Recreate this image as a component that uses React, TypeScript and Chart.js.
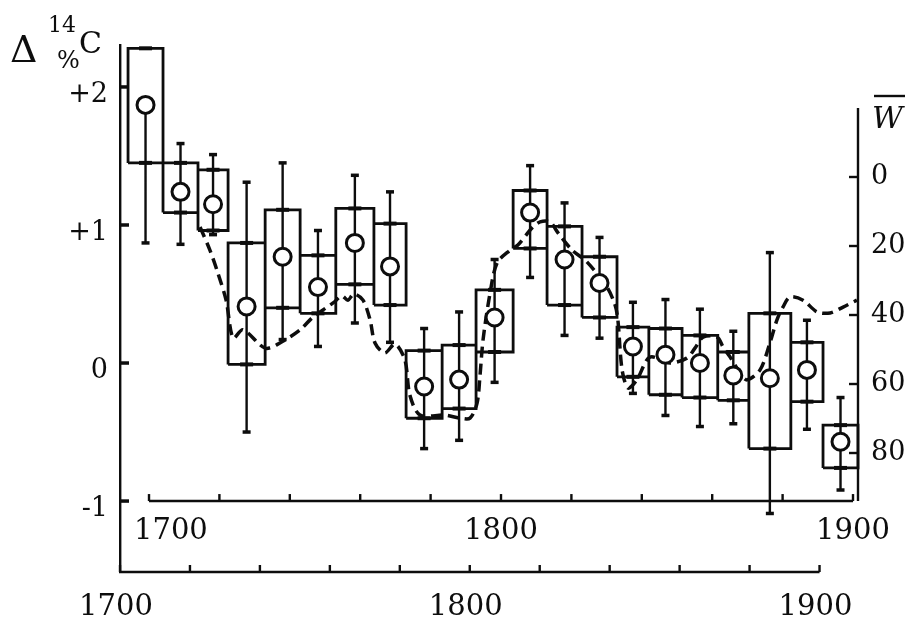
import React, { useEffect, useRef } from 'react';
import { Chart, registerables } from 'chart.js';

Chart.register(...registerables);

const INK = '#0d0d0d';
const SERIF = '"DejaVu Serif", "Liberation Serif", serif';

// ---- Δ14C decadal boxes (bottom time axis, left Δ14C axis) ----
const decadeEdges = [1702.3, 1712.3, 1722.3, 1730.9, 1741.5, 1751.5, 1761.7, 1772.6, 1781.8, 1792.1, 1801.8,
  1812.4, 1822.1, 1832.1, 1842.1, 1851.2, 1860.7, 1870.9, 1879.8, 1891.8, 1901.0, 1911.0];
const boxHigh = [2.28, 1.45, 1.40, 0.87, 1.11, 0.78, 1.12, 1.01, 0.09, 0.13, 0.53, 1.25, 0.99, 0.77, 0.26, 0.25, 0.20, 0.08, 0.36, 0.15, -0.45];
const boxLow = [1.45, 1.09, 0.96, -0.01, 0.40, 0.36, 0.57, 0.42, -0.40, -0.33, 0.08, 0.83, 0.42, 0.33, -0.10, -0.23, -0.25, -0.27, -0.62, -0.28, -0.76];
const delta14C = [1.87, 1.24, 1.15, 0.41, 0.77, 0.55, 0.87, 0.70, -0.17, -0.12, 0.33, 1.09, 0.75, 0.58, 0.12, 0.06, 0.00, -0.09, -0.11, -0.05, -0.57];
const errHigh = [1.87, 1.59, 1.51, 1.31, 1.45, 0.96, 1.36, 1.24, 0.25, 0.37, 0.75, 1.43, 1.16, 0.91, 0.44, 0.46, 0.39, 0.23, 0.80, 0.31, -0.25];
const errLow = [0.87, 0.86, 0.93, -0.50, 0.17, 0.12, 0.29, 0.15, -0.62, -0.56, -0.14, 0.62, 0.20, 0.18, -0.22, -0.38, -0.46, -0.44, -1.09, -0.48, -0.92];

// ---- Wolf number W̄ (top time axis, right inverted axis) ----
const wYears = [1714.5, 1717.3, 1719.3, 1721.9, 1723.9, 1726.7, 1733.0, 1737.2, 1742.9, 1746.6, 1752.3, 1754.8, 1756.5,
  1758.2, 1760.8, 1762.8, 1764.2, 1767.0, 1769.9, 1772.7, 1774.1, 1777.0, 1784.1, 1788.4, 1791.2, 1793.2, 1794.0,
  1794.9, 1796.9, 1798.9, 1802.6, 1804.8, 1808.8, 1811.1, 1813.9, 1816.2, 1820.2, 1824.4, 1830.1, 1832.4, 1833.2,
  1834.4, 1836.1, 1838.6, 1842.3, 1848.0, 1852.8, 1855.1, 1857.4, 1861.4, 1863.1, 1865.1, 1867.9, 1869.9, 1873.6,
  1876.4, 1878.4, 1880.1, 1882.1, 1885.8, 1889.8, 1893.5, 1897.2, 1901.1];
const wValues = [14.5, 21.2, 27.0, 35.7, 46.7, 44.3, 49.6, 48.1, 44.3, 40.6, 36.5, 34.5, 35.7,
  33.9, 35.7, 41.4, 48.1, 51.0, 48.4, 53.0, 63.2, 69.0, 69.0, 69.9, 69.9, 65.5, 58.0,
  47.2, 33.6, 24.9, 21.2, 19.7, 14.8, 13.0, 13.0, 16.2, 21.2, 24.6, 31.9, 37.1, 41.4,
  55.9, 61.2, 58.8, 52.2, 53.9, 52.5, 49.6, 46.4, 46.4, 49.3, 52.2, 56.8, 58.8, 55.9,
  48.1, 41.4, 37.7, 34.8, 35.7, 39.1, 39.4, 37.7, 35.7];

// ---- ticks ----
const yTicks = [-1, 0, 1, 2];
const wTicks = [0, 20, 40, 60, 80];
const yearTicks = [1700, 1720, 1740, 1760, 1780, 1800, 1820, 1840, 1860, 1880, 1900];
const yearLabels = [1700, 1800, 1900];

const decorPlugin = {
  id: 'decor',
  afterDraw(chart: any) {
    const { ctx, chartArea: a, scales } = chart;
    const x = scales.x, y = scales.y, xw = scales.xw, yw = scales.yw;
    ctx.save();
    ctx.strokeStyle = INK;
    ctx.fillStyle = INK;
    const seg = (x1: number, y1: number, x2: number, y2: number, w: number) => {
      ctx.lineWidth = w;
      ctx.beginPath();
      ctx.moveTo(x1, y1);
      ctx.lineTo(x2, y2);
      ctx.stroke();
    };
    // left axis: inward ticks
    for (const v of yTicks) {
      const p = y.getPixelForValue(v);
      seg(a.left, p, a.left + 9, p, 3.5);
    }
    // bottom time axis
    const b1 = x.getPixelForValue(yearTicks[yearTicks.length - 1]);
    seg(a.left - 1, a.bottom, b1, a.bottom, 2.4);
    for (const t of yearTicks) {
      const p = x.getPixelForValue(t);
      seg(p, a.bottom, p, a.bottom - 7, 2.4);
    }
    // top time axis (W frame), sitting at Δ = -1
    const ty = y.getPixelForValue(-1);
    const t0 = xw.getPixelForValue(yearTicks[0]);
    const t1 = xw.getPixelForValue(yearTicks[yearTicks.length - 1]);
    seg(t0, ty, t1, ty, 2.4);
    for (const t of yearTicks) {
      const p = xw.getPixelForValue(t);
      seg(p, ty, p, ty - 7, 2.4);
    }
    ctx.font = `29px ${SERIF}`;
    ctx.textAlign = 'center';
    ctx.textBaseline = 'middle';
    for (const t of yearLabels) {
      const p = xw.getPixelForValue(t);
      const w = ctx.measureText(String(t)).width;
      const cx = Math.max(p, a.left + 14 + w / 2);
      ctx.fillText(String(t), cx, ty + 30);
    }
    // right W axis
    const r = a.right;
    const rTop = yw.getPixelForValue(-20);
    seg(r, rTop, r, ty, 2.4);
    for (const v of wTicks) {
      const p = yw.getPixelForValue(v);
      seg(r - 9, p, r, p, 2.4);
    }
    // axis titles
    ctx.textAlign = 'left';
    ctx.textBaseline = 'alphabetic';
    ctx.font = `38px ${SERIF}`;
    ctx.fillText('Δ', 10, 62);
    ctx.font = `22px ${SERIF}`;
    ctx.fillText('14', 48, 32);
    ctx.font = `24px ${SERIF}`;
    ctx.fillText('%', 57, 68);
    ctx.font = `30px ${SERIF}`;
    ctx.fillText('C', 79, 53);
    ctx.font = `italic 30px ${SERIF}`;
    ctx.fillText('W', 872, 128);
    seg(874, 96, 905, 96, 2.4);
    ctx.restore();
  },
};

export default function App() {
  const ref = useRef<HTMLCanvasElement>(null);

  useEffect(() => {
    const centers = boxHigh.map((_, i) => (decadeEdges[i] + decadeEdges[i + 1]) / 2);

    const boxPts: any[] = [];
    boxHigh.forEach((hi, i) => {
      const s = decadeEdges[i];
      const e = decadeEdges[i + 1];
      const lo = boxLow[i];
      boxPts.push({ x: s, y: lo }, { x: s, y: hi }, { x: e, y: hi }, { x: e, y: lo }, { x: s, y: lo }, { x: (s + e) / 2, y: null });
    });
    const whiskerPts: any[] = [];
    const capPts: any[] = [];
    const crossPts: any[] = [];
    centers.forEach((c, i) => {
      whiskerPts.push({ x: c, y: errLow[i] }, { x: c, y: errHigh[i] }, { x: c, y: null });
      capPts.push({ x: c, y: errLow[i] }, { x: c, y: errHigh[i] });
      crossPts.push({ x: c, y: boxHigh[i] }, { x: c, y: boxLow[i] });
    });

    const chart = new Chart(ref.current as HTMLCanvasElement, {
      type: 'scatter',
      data: {
        datasets: [
          {
            label: 'W',
            data: wYears.map((yr, i) => ({ x: yr, y: wValues[i] })),
            xAxisID: 'xw',
            yAxisID: 'yw',
            showLine: true,
            borderColor: INK,
            borderWidth: 3.5,
            borderDash: [11, 6],
            pointRadius: 0,
            tension: 0.3,
            order: 5,
          },
          {
            label: 'boxes',
            data: boxPts,
            xAxisID: 'x',
            yAxisID: 'y',
            showLine: true,
            borderColor: INK,
            borderWidth: 2.8,
            borderJoinStyle: 'miter',
            pointRadius: 0,
            clip: false,
            order: 4,
          },
          {
            label: 'whiskers',
            data: whiskerPts,
            xAxisID: 'x',
            yAxisID: 'y',
            showLine: true,
            borderColor: INK,
            borderWidth: 2.4,
            pointRadius: 0,
            order: 3,
          },
          {
            label: 'caps',
            data: capPts,
            xAxisID: 'x',
            yAxisID: 'y',
            pointStyle: 'line',
            pointRadius: 4,
            borderColor: INK,
            borderWidth: 3.5,
            order: 2,
          },
          {
            label: 'crosses',
            data: crossPts,
            xAxisID: 'x',
            yAxisID: 'y',
            pointStyle: 'line',
            pointRadius: 6.5,
            borderColor: INK,
            borderWidth: 4,
            order: 2,
          },
          {
            label: 'Δ14C',
            data: centers.map((c, i) => ({ x: c, y: delta14C[i] })),
            xAxisID: 'x',
            yAxisID: 'y',
            pointStyle: 'circle',
            pointRadius: 8.5,
            backgroundColor: '#ffffff',
            borderColor: INK,
            borderWidth: 3,
            order: 0,
          },
        ] as any,
      },
      options: {
        responsive: false,
        animation: false,
        events: [],
        layout: { padding: { top: 45, left: 0, right: 0, bottom: 0 } },
        plugins: { legend: { display: false }, tooltip: { enabled: false }, title: { display: false } },
        scales: {
          x: {
            type: 'linear',
            axis: 'x',
            position: 'bottom',
            min: 1700,
            max: 1911,
            grid: { display: false, drawTicks: false },
            border: { display: false },
            afterBuildTicks: (s: any) => { s.ticks = yearTicks.map((v) => ({ value: v })); },
            afterFit: (s: any) => { s.height = 63; },
            ticks: {
              autoSkip: false,
              maxRotation: 0,
              padding: 18,
              labelOffset: -4,
              color: INK,
              font: { family: SERIF, size: 29 },
              callback: (v: any) => (yearLabels.includes(Number(v)) ? String(v) : ''),
            },
          },
          xw: {
            type: 'linear',
            axis: 'x',
            position: { y: -1 },
            min: 1691.76,
            max: 1901.42,
            display: false,
          },
          y: {
            type: 'linear',
            axis: 'y',
            position: 'left',
            min: -1.514,
            max: 2.304,
            grid: { display: false, drawTicks: false },
            border: { display: true, color: INK, width: 2.4 },
            afterBuildTicks: (s: any) => { s.ticks = yTicks.map((v) => ({ value: v })); },
            afterFit: (s: any) => { s.width = 120; },
            ticks: {
              padding: 12,
              labelOffset: 8,
              color: INK,
              font: { family: SERIF, size: 27 },
              callback: (v: any) => (Number(v) > 0 ? '+' + v : String(v)),
            },
          },
          yw: {
            type: 'linear',
            axis: 'y',
            position: 'right',
            reverse: true,
            min: -38.26,
            max: 114.49,
            grid: { display: false, drawTicks: false },
            border: { display: false },
            afterBuildTicks: (s: any) => { s.ticks = wTicks.map((v) => ({ value: v })); },
            afterFit: (s: any) => { s.width = 58; },
            ticks: {
              padding: 13,
              color: INK,
              font: { family: SERIF, size: 27 },
            },
          },
        } as any,
      },
      plugins: [decorPlugin],
    });
    return () => chart.destroy();
  }, []);

  return (
    <div style={{ position: 'fixed', left: 0, top: 0, width: 916, height: 635, background: '#ffffff' }}>
      <canvas ref={ref} width={916} height={635} style={{ display: 'block' }} />
    </div>
  );
}
